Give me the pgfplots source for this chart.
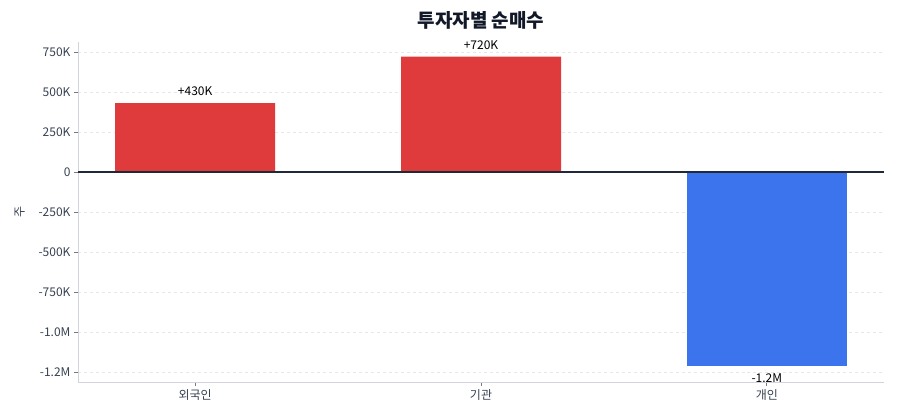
\documentclass[border=0pt]{standalone}
\usepackage{fontspec}
\setmainfont{Noto Sans CJK KR}
\usepackage{pgfplots}
\pgfplotsset{compat=1.18}

\definecolor{buyred}{HTML}{E03B3C}
\definecolor{sellblue}{HTML}{3B74EC}
\definecolor{zeroline}{HTML}{1F2937}
\definecolor{titlecol}{HTML}{111827}
\definecolor{axisgray}{HTML}{D1D5DB}
\definecolor{gridgray}{HTML}{E5E7EB}
\definecolor{labelgray}{HTML}{374151}

\begin{document}
\begin{tikzpicture}
\useasboundingbox (-78bp,-38bp) rectangle (822bp,382bp);
\begin{axis}[
    at={(0,0)}, anchor=south west,
    scale only axis,
    width=806bp, height=340bp,
    xmin=-0.41, xmax=2.41,
    ymin=-1312000, ymax=812000,
    ybar, bar width=160bp,
    xtick={0,1,2},
    xticklabels={외국인,기관,개인},
    ytick={-1250000,-1000000,-750000,-500000,-250000,0,250000,500000,750000},
    yticklabels={-1.2M,-1.0M,-750K,-500K,-250K,0,250K,500K,750K},
    scaled y ticks=false,
    axis x line*=bottom, axis y line*=left,
    axis line style={-, axisgray, line width=1pt},
    tick align=outside,
    major tick length=4bp,
    tick style={labelgray!70, line width=0.8pt},
    ymajorgrids,
    grid style={dashed, gridgray, line width=0.8pt},
    ticklabel style={font=\fontsize{12bp}{14bp}\selectfont, text=labelgray},
    ylabel={주},
    ylabel style={font=\fontsize{12bp}{14bp}\selectfont, text=labelgray, at={(ticklabel cs:0.5)}, anchor=south, yshift=7bp},
    point meta=explicit symbolic,
    nodes near coords,
    clip=false,
]
\addplot[fill=buyred, draw=none, bar shift=0pt,
    every node near coord/.style={font=\fontsize{12bp}{14bp}\selectfont, text=black, anchor=south, inner sep=0pt, yshift=7bp}]
    coordinates {
    (0,430000) [+430K]
    (1,720000) [+720K]
};
\addplot[fill=sellblue, draw=none, bar shift=0pt,
    every node near coord/.style={font=\fontsize{12bp}{14bp}\selectfont, text=black, anchor=north, inner sep=0pt, yshift=-8bp}]
    coordinates {
    (2,-1210000) [-1.2M]
};
\draw[zeroline, line width=1.2pt] (axis cs:-0.41,0) -- (axis cs:2.41,0);
\end{axis}
\node[font=\bfseries\fontsize{19bp}{22bp}\selectfont, text=titlecol] at (403bp,362bp) {투자자별 순매수};
\end{tikzpicture}
\end{document}
